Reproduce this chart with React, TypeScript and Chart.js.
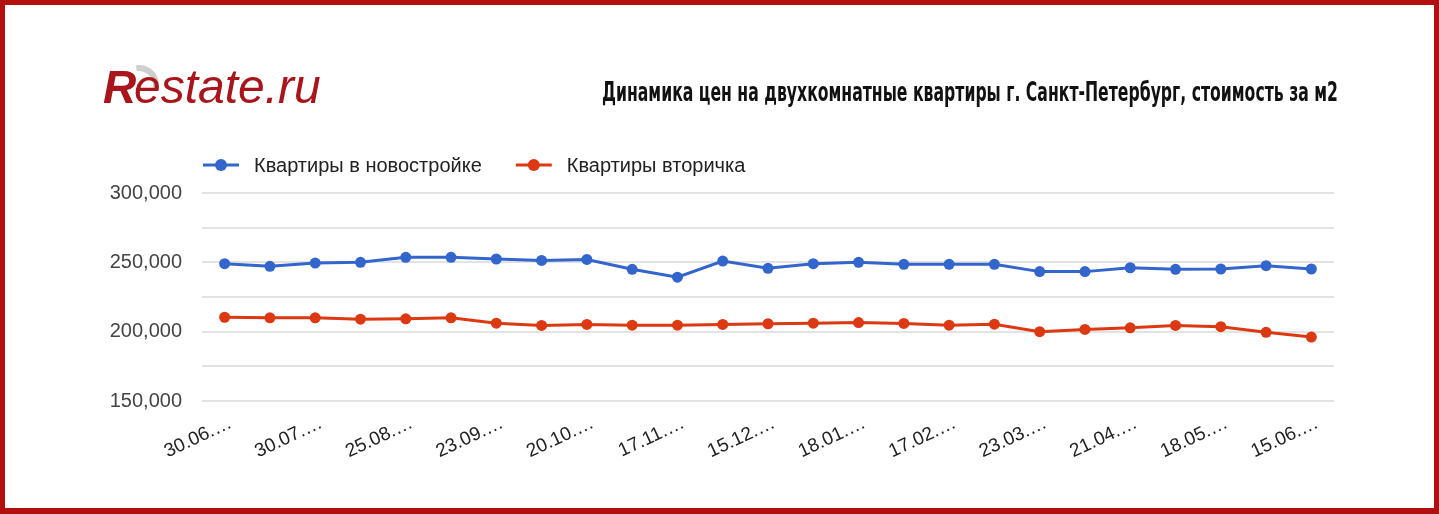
import React, { useEffect, useRef } from "react";
import { Chart, registerables } from "chart.js";

Chart.register(...registerables);

const dateLabels = [
  "30.06.2023", "15.07.2023", "30.07.2023", "11.08.2023", "25.08.2023",
  "08.09.2023", "23.09.2023", "06.10.2023", "20.10.2023", "03.11.2023",
  "17.11.2023", "01.12.2023", "15.12.2023", "29.12.2023", "18.01.2024",
  "02.02.2024", "17.02.2024", "03.03.2024", "23.03.2024", "07.04.2024",
  "21.04.2024", "05.05.2024", "18.05.2024", "01.06.2024", "15.06.2024",
];

const newBuildPrices = [
  249000, 247100, 249500, 250000, 253600, 253600, 252400, 251400, 252100, 245000,
  239300, 250900, 245700, 249000, 250000, 248600, 248600, 248600, 243300, 243300,
  246100, 245000, 245200, 247600, 245200,
];

const secondaryPrices = [
  210400, 210000, 210000, 209000, 209300, 210000, 206100, 204500, 205200, 204700,
  204700, 205200, 205700, 206100, 206600, 205900, 204700, 205400, 200000, 201600,
  202800, 204500, 203600, 199500, 196100,
];

const seriesNames = ["Квартиры в новостройке", "Квартиры вторичка"];
const seriesColors = ["#3366cc", "#dc3912"];
const yTickValues = [150000, 200000, 250000, 300000];
const chartTitle =
  "Динамика цен на двухкомнатные квартиры г. Санкт-Петербург, стоимость за м2";

const FONT = "'Liberation Sans', Arial, sans-serif";
const W = 1429;
const H = 503;

const decorPlugin = {
  id: "decor",
  afterDraw(chart: any) {
    const ctx = chart.ctx as CanvasRenderingContext2D;
    const area = chart.chartArea;
    ctx.save();

    // Logo
    ctx.strokeStyle = "#cfcfcf";
    ctx.lineWidth = 6;
    ctx.beginPath();
    ctx.arc(134, 80, 17, -Math.PI * 0.55, Math.PI * 0.05);
    ctx.stroke();
    ctx.fillStyle = "#a8151b";
    ctx.textBaseline = "alphabetic";
    ctx.textAlign = "left";
    ctx.font = `bold italic 46px ${FONT}`;
    ctx.fillText("R", 98, 98);
    ctx.font = `italic 48px ${FONT}`;
    ctx.fillText("estate.ru", 129, 98);

    // Title (condensed bold)
    ctx.fillStyle = "#111";
    ctx.font = `bold 26px 'DejaVu Sans Condensed', 'DejaVu Sans', sans-serif`;
    const tw = ctx.measureText(chartTitle).width;
    const targetW = 736;
    const sx = targetW / tw;
    ctx.save();
    ctx.translate(area.right + 4 - targetW, 96);
    ctx.scale(sx, 1);
    ctx.fillText(chartTitle, 0, 0);
    ctx.restore();

    // Legend
    ctx.font = `20px ${FONT}`;
    ctx.textBaseline = "middle";
    let x = area.left + 1;
    const ly = 160;
    chart.data.datasets.forEach((ds: any) => {
      ctx.strokeStyle = ds.borderColor;
      ctx.lineWidth = 3;
      ctx.beginPath();
      ctx.moveTo(x, ly);
      ctx.lineTo(x + 36, ly);
      ctx.stroke();
      ctx.fillStyle = ds.borderColor;
      ctx.beginPath();
      ctx.arc(x + 18, ly, 6, 0, Math.PI * 2);
      ctx.fill();
      ctx.fillStyle = "#222";
      ctx.fillText(ds.label, x + 51, ly + 1);
      x += 51 + ctx.measureText(ds.label).width + 34;
    });
    ctx.restore();
  },
};

export default function App() {
  const ref = useRef<HTMLCanvasElement | null>(null);

  useEffect(() => {
    if (!ref.current) return;
    const chart = new Chart(ref.current, {
      type: "line",
      data: {
        labels: dateLabels,
        datasets: [
          {
            label: seriesNames[0],
            data: newBuildPrices,
            borderColor: seriesColors[0],
            backgroundColor: seriesColors[0],
            pointBackgroundColor: seriesColors[0],
            borderWidth: 3,
            pointRadius: 5.5,
            pointBorderWidth: 0,
            tension: 0,
          },
          {
            label: seriesNames[1],
            data: secondaryPrices,
            borderColor: seriesColors[1],
            backgroundColor: seriesColors[1],
            pointBackgroundColor: seriesColors[1],
            borderWidth: 3,
            pointRadius: 5.5,
            pointBorderWidth: 0,
            tension: 0,
          },
        ],
      },
      options: {
        responsive: false,
        maintainAspectRatio: false,
        animation: false,
        layout: { padding: { left: 0, right: 100, top: 188, bottom: 0 } },
        plugins: {
          legend: { display: false },
          title: { display: false },
          tooltip: { enabled: false },
        },
        scales: {
          x: {
            offset: true,
            grid: { display: false, drawTicks: false },
            border: { display: false },
            afterFit: (s: any) => {
              s.height = 107;
            },
            ticks: {
              autoSkip: false,
              minRotation: 25,
              maxRotation: 25,
              padding: 11,
              labelOffset: 6,
              color: "#222",
              font: { family: FONT, size: 19 },
              callback: (_v: any, i: number) =>
                i % 2 === 0 ? dateLabels[i].slice(0, 6) + "…" : "",
            },
          },
          y: {
            min: 150000,
            max: 300000,
            grid: { color: "#e3e3e3", lineWidth: 2, drawTicks: false },
            border: { display: false },
            afterFit: (s: any) => {
              s.width = 197;
            },
            afterBuildTicks: (s: any) => {
              s.ticks = [150000, 175000, 200000, 225000, 250000, 275000, 300000].map(
                (v) => ({ value: v })
              );
            },
            ticks: {
              padding: 20,
              color: "#444",
              font: { family: FONT, size: 20 },
              callback: (v: any) =>
                yTickValues.includes(Number(v)) ? Number(v).toLocaleString("en-US") : "",
            },
          },
        },
      },
      plugins: [decorPlugin],
    });
    return () => chart.destroy();
  }, []);

  return (
    <div
      style={{
        position: "absolute",
        left: 0,
        top: 0,
        width: 1439,
        height: 514,
        boxSizing: "border-box",
        borderStyle: "solid",
        borderColor: "#b30f0f",
        borderWidth: "5px 5px 6px 5px",
        background: "#fff",
      }}
    >
      <canvas ref={ref} width={W} height={H} style={{ width: W, height: H, display: "block" }} />
    </div>
  );
}
